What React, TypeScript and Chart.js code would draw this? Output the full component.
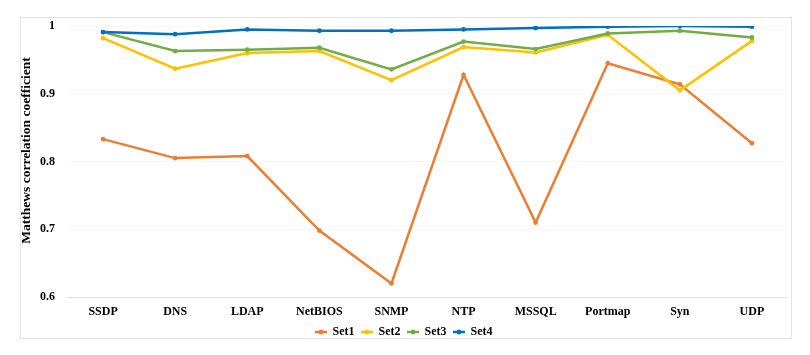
import React, { useEffect, useRef } from "react";
import { Chart, registerables } from "chart.js";

Chart.register(...registerables);

const categories = ["SSDP", "DNS", "LDAP", "NetBIOS", "SNMP", "NTP", "MSSQL", "Portmap", "Syn", "UDP"];
const set1 = [0.833, 0.805, 0.808, 0.698, 0.620, 0.928, 0.710, 0.945, 0.914, 0.827];
const set2 = [0.982, 0.937, 0.960, 0.963, 0.920, 0.969, 0.961, 0.987, 0.905, 0.978];
const set3 = [0.991, 0.963, 0.965, 0.968, 0.936, 0.977, 0.966, 0.989, 0.993, 0.983];
const set4 = [0.991, 0.988, 0.995, 0.993, 0.993, 0.995, 0.997, 0.999, 1.0, 0.999];
const seriesNames = ["Set1", "Set2", "Set3", "Set4"];
const seriesColors = ["#ED7D31", "#FFC000", "#70AD47", "#0070C0"];
const yTitle = "Matthews correlation coefficient";

const FONT = "'Liberation Serif', 'Times New Roman', serif";

function legendMarker(color: string): HTMLCanvasElement {
  const c = document.createElement("canvas");
  c.width = 12;
  c.height = 6;
  const ctx = c.getContext("2d")!;
  ctx.strokeStyle = color;
  ctx.fillStyle = color;
  ctx.lineWidth = 2.5;
  ctx.beginPath();
  ctx.moveTo(0, 3);
  ctx.lineTo(12, 3);
  ctx.stroke();
  ctx.beginPath();
  ctx.arc(6, 3, 2.4, 0, Math.PI * 2);
  ctx.fill();
  return c;
}

const framePlugin = {
  id: "frame",
  beforeDraw(chart: any) {
    const ctx = chart.ctx;
    ctx.save();
    ctx.fillStyle = "#ffffff";
    ctx.fillRect(0, 0, chart.width, chart.height);
    ctx.strokeStyle = "#e3e3e3";
    ctx.lineWidth = 1;
    ctx.strokeRect(20.5, 17.5, 771, 321);
    ctx.restore();
  },
  afterDraw(chart: any) {
    const ctx = chart.ctx;
    ctx.save();
    ctx.translate(27, 150.5);
    ctx.rotate(-Math.PI / 2);
    ctx.font = `bold 13.5px ${FONT}`;
    ctx.fillStyle = "#000000";
    ctx.textAlign = "center";
    ctx.textBaseline = "middle";
    ctx.fillText(yTitle, 0, 0);
    ctx.restore();
  },
};

export default function App() {
  const ref = useRef<HTMLCanvasElement>(null);
  useEffect(() => {
    if (!ref.current) return;
    const all = [set1, set2, set3, set4];
    const markers = seriesColors.map(legendMarker);
    const chart = new Chart(ref.current, {
      type: "line",
      data: {
        labels: categories,
        datasets: all.map((d, i) => ({
          label: seriesNames[i],
          data: d,
          borderColor: seriesColors[i],
          backgroundColor: seriesColors[i],
          borderWidth: 2.5,
          pointRadius: 2.4,
          pointHoverRadius: 2.4,
          pointBorderWidth: 0,
          pointStyle: "circle",
          tension: 0,
          fill: false,
          order: 4 - i,
        })),
      },
      options: {
        animation: false,
        responsive: false,
        maintainAspectRatio: false,
        layout: { padding: { left: 20, right: 22, top: 26, bottom: 7 } },
        plugins: {
          tooltip: { enabled: false },
          legend: {
            position: "bottom",
            labels: {
              font: { family: FONT, size: 12, weight: "bold" },
              color: "#000000",
              usePointStyle: true,
              boxHeight: 8,
              pointStyleWidth: 11,
              padding: 7,
              generateLabels: (ch: any) =>
                ch.data.datasets.map((ds: any, i: number) => ({
                  text: ds.label,
                  fillStyle: seriesColors[i],
                  strokeStyle: seriesColors[i],
                  lineWidth: 0,
                  pointStyle: markers[i],
                  hidden: false,
                  datasetIndex: i,
                  fontColor: "#000000",
                })),
            },
          },
        },
        scales: {
          x: {
            offset: true,
            grid: { display: false, drawTicks: false },
            border: { display: false },
            ticks: {
              font: { family: FONT, size: 12, weight: "bold" },
              color: "#000000",
              padding: 8,
              maxRotation: 0,
              autoSkip: false,
            },
            afterFit: (s: any) => {
              s.height = 22;
            },
          },
          y: {
            min: 0.6,
            max: 1,
            grid: {
              drawTicks: false,
              color: (c: any) => (Math.abs(c.tick.value - 0.6) < 1e-6 ? "#e2e2e2" : "#f7f7f7"),
              lineWidth: 1,
            },
            border: { display: false },
            ticks: {
              stepSize: 0.1,
              font: { family: FONT, size: 12, weight: "bold" },
              color: "#000000",
              padding: 12,
              callback: (v: any) => {
                const n = Number(v);
                return Math.abs(n - 1) < 1e-6 ? "1" : n.toFixed(1);
              },
            },
            afterFit: (s: any) => {
              s.width = 47;
            },
          },
        },
      },
      plugins: [framePlugin],
    });
    return () => chart.destroy();
  }, []);
  return (
    <div style={{ position: "fixed", left: 0, top: 0, width: 810, height: 355, background: "#fff" }}>
      <canvas ref={ref} width={810} height={355} style={{ display: "block", width: 810, height: 355 }} />
    </div>
  );
}
